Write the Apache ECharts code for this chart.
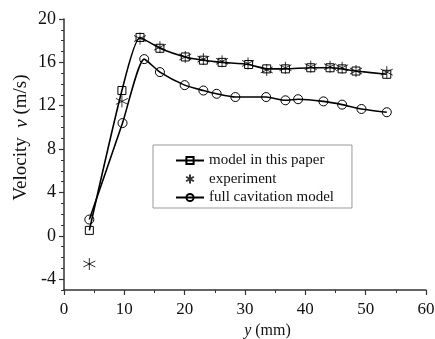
<!DOCTYPE html>
<html>
<head>
<meta charset="utf-8">
<script src="https://cdn.jsdelivr.net/npm/echarts@6/dist/echarts.min.js"></script>
<style>
  html, body { margin: 0; padding: 0; background: #fff; }
  #chart { width: 435px; height: 339px; }
</style>
</head>
<body>
<div id="chart"></div>
<script>
// Distance across the nozzle, y (mm)
var modelY = [4.2, 9.6, 12.6, 15.9, 20.1, 23.1, 26.2, 30.6, 33.6, 36.7, 40.9, 44.1, 46.1, 48.4, 53.5];
var modelV = [0.5, 13.4, 18.3, 17.3, 16.5, 16.2, 16.0, 15.8, 15.4, 15.4, 15.5, 15.5, 15.4, 15.2, 14.9];

var expY = [4.2, 9.6, 12.6, 15.9, 20.1, 23.1, 26.2, 30.5, 33.6, 36.7, 40.9, 44.1, 46.1, 48.4, 53.5];
var expV = [-2.6, 12.4, 18.2, 17.4, 16.5, 16.3, 16.1, 15.9, 15.3, 15.5, 15.6, 15.6, 15.5, 15.2, 15.1];

var fullY = [4.2, 9.7, 13.3, 15.9, 20.0, 23.1, 25.3, 28.4, 33.5, 36.7, 38.8, 43.0, 46.1, 49.3, 53.5];
var fullV = [1.5, 10.4, 16.3, 15.1, 13.9, 13.4, 13.1, 12.8, 12.8, 12.5, 12.6, 12.4, 12.1, 11.7, 11.4];

var yMajorTicks = [-4, 0, 4, 8, 12, 16, 20];
var seriesNames = ['model in this paper', 'experiment', 'full cavitation model'];

function pairs(xs, ys) {
  return xs.map(function (x, i) { return [x, ys[i]]; });
}

var serif = 'Liberation Serif';
var axisColor = '#333';
var starPath = 'path://M0,-10L0,10M-8.66,-5L8.66,5M-8.66,5L8.66,-5';
var hollow = { color: 'rgba(0,0,0,0)', borderColor: '#000', borderWidth: 1 };

var chart = echarts.init(document.getElementById('chart'), null, { renderer: 'canvas' });
chart.setOption({
  animation: false,
  backgroundColor: '#fff',
  textStyle: { fontFamily: serif },
  grid: { left: 64, right: 9, top: 19, bottom: 49, outerBoundsMode: 'none', containLabel: false },
  legend: {
    orient: 'vertical',
    left: 153,
    top: 145,
    data: seriesNames,
    backgroundColor: '#fff',
    borderColor: '#999',
    borderWidth: 1,
    borderRadius: 0,
    padding: [8, 18, 3, 22],
    itemWidth: 28,
    itemHeight: 9,
    itemGap: 3.5,
    textStyle: { fontFamily: serif, fontSize: 15, color: '#111' }
  },
  xAxis: {
    type: 'value',
    min: 0,
    max: 60,
    interval: 10,
    name: '{i|y}{n| (mm)}',
    nameLocation: 'middle',
    nameGap: 33,
    nameTextStyle: {
      color: '#111',
      padding: [0, 0, 0, 45],
      rich: {
        n: { fontFamily: serif, fontSize: 16, color: '#111' },
        i: { fontFamily: serif, fontSize: 16, fontStyle: 'italic', color: '#111' }
      }
    },
    axisLine: { show: true, onZero: false, lineStyle: { color: axisColor, width: 1.5 } },
    axisTick: { show: true, inside: false, length: 5, lineStyle: { color: axisColor, width: 1.2 } },
    minorTick: { show: true, splitNumber: 2, length: 3, lineStyle: { color: axisColor, width: 1 } },
    axisLabel: { fontFamily: serif, fontSize: 17, color: '#111', margin: 11 },
    splitLine: { show: false }
  },
  yAxis: [{
    type: 'value',
    min: -5,
    max: 20,
    interval: 1,
    name: '{n|Velocity  }{i|v}{n| (m/s)}',
    nameLocation: 'middle',
    nameGap: 33,
    nameTextStyle: {
      color: '#111',
      padding: [0, 0, 0, 34],
      rich: {
        n: { fontFamily: serif, fontSize: 19, color: '#111' },
        i: { fontFamily: serif, fontSize: 19, fontStyle: 'italic', color: '#111' }
      }
    },
    axisLine: { show: true, onZero: false, lineStyle: { color: axisColor, width: 1.5 } },
    axisTick: { show: true, inside: false, length: 3, lineStyle: { color: axisColor, width: 1 } },
    axisLabel: { show: false },
    splitLine: { show: false }
  }, {
    type: 'value',
    min: -5,
    max: 20,
    position: 'left',
    axisLine: { show: false },
    axisTick: { show: true, inside: false, length: 5, customValues: yMajorTicks, lineStyle: { color: axisColor, width: 1.2 } },
    axisLabel: { fontFamily: serif, fontSize: 18, color: '#111', margin: 8, customValues: yMajorTicks },
    splitLine: { show: false }
  }],
  series: [{
    name: seriesNames[0],
    type: 'line',
    data: pairs(modelY, modelV),
    smooth: 0.2,
    symbol: 'rect',
    symbolSize: 8,
    showSymbol: true,
    lineStyle: { color: '#000', width: 1.6 },
    itemStyle: hollow,
    z: 3
  }, {
    name: seriesNames[1],
    type: 'scatter',
    data: pairs(expY, expV),
    symbol: starPath,
    symbolSize: 12,
    itemStyle: { color: 'rgba(0,0,0,0)', borderColor: '#000', borderWidth: 1 },
    z: 4
  }, {
    name: seriesNames[2],
    type: 'line',
    data: pairs(fullY, fullV),
    smooth: 0.2,
    symbol: 'circle',
    symbolSize: 9,
    showSymbol: true,
    lineStyle: { color: '#000', width: 1.6 },
    itemStyle: hollow,
    z: 3
  }]
});
</script>
</body>
</html>
